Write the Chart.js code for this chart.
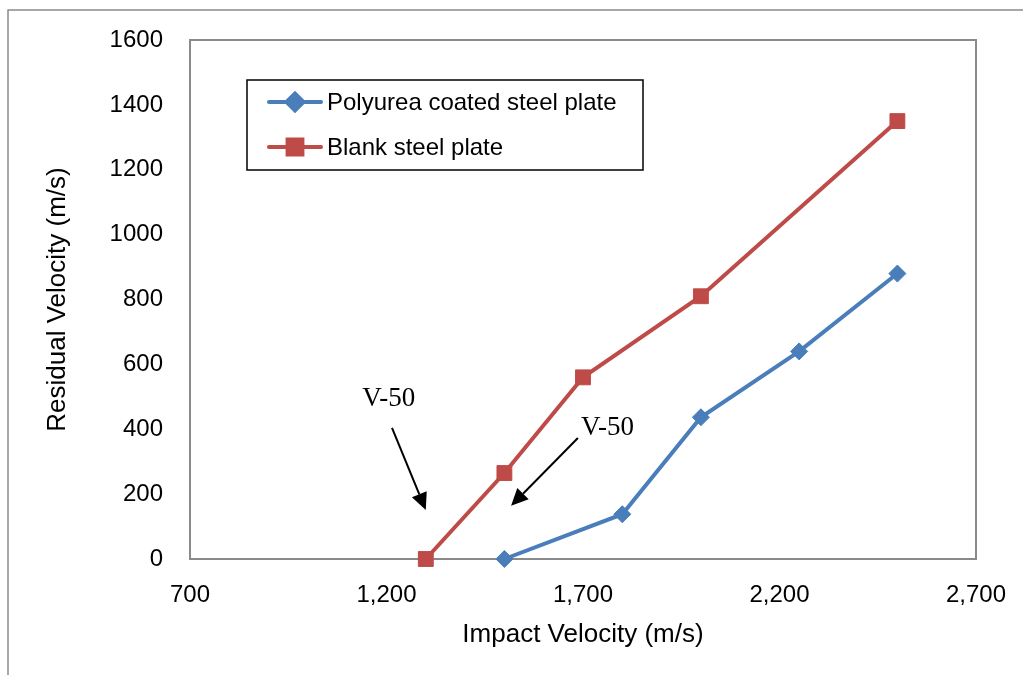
<!DOCTYPE html>
<html>
<head>
<meta charset="utf-8">
<script src="https://cdn.jsdelivr.net/npm/chart.js@4/dist/chart.umd.min.js"></script>
<style>
html,body{margin:0;padding:0;background:#fff;}
canvas{display:block;}
</style>
</head>
<body>
<canvas id="c" width="1023" height="675"></canvas>
<script>
// ---- data ----
const polyureaImpact   = [1500, 1800, 2000, 2250, 2500];
const polyureaResidual = [0, 138, 437, 640, 880];
const blankImpact      = [1300, 1500, 1700, 2000, 2500];
const blankResidual    = [0, 265, 560, 810, 1350];
const seriesNames = ['Polyurea coated steel plate', 'Blank steel plate'];
const xTickValues = [700, 1200, 1700, 2200, 2700];
const yTickValues = [0, 200, 400, 600, 800, 1000, 1200, 1400, 1600];
const xTitle = 'Impact Velocity (m/s)';
const yTitle = 'Residual Velocity (m/s)';
// annotation labels / arrows in data units
const noteText = ['V-50', 'V-50'];
const noteTextX = [1138, 1695];
const noteTextY = [471, 382];
const arrowFromX = [1214, 1687];
const arrowFromY = [404, 373];
const arrowToX = [1300, 1517];
const arrowToY = [151, 164];

const toPoints = (xs, ys) => xs.map((x, i) => ({x: x, y: ys[i]}));

const BLUE = '#4A7EBB';
const RED = '#BE4B48';
const GRAY = '#8A8A8A';
const SANS = '"Liberation Sans", Arial, sans-serif';

const decor = {
  id: 'decor',
  beforeDraw(chart) {
    const ctx = chart.ctx;
    ctx.save();
    ctx.fillStyle = '#fff';
    ctx.fillRect(0, 0, chart.width, chart.height);
    // outer frame (top + left)
    ctx.strokeStyle = GRAY;
    ctx.lineWidth = 1.5;
    ctx.beginPath();
    ctx.moveTo(8, chart.height);
    ctx.lineTo(8, 10);
    ctx.lineTo(chart.width, 10);
    ctx.stroke();
    ctx.restore();
  },
  beforeDatasetsDraw(chart) {
    const ctx = chart.ctx, a = chart.chartArea;
    ctx.save();
    ctx.strokeStyle = GRAY;
    ctx.lineWidth = 2;
    ctx.strokeRect(a.left, a.top, a.right - a.left, a.bottom - a.top);
    ctx.restore();
  },
  afterDatasetsDraw(chart) {
    const ctx = chart.ctx;
    const xs = chart.scales.x, ys = chart.scales.y;
    ctx.save();
    // annotations
    ctx.fillStyle = '#000';
    ctx.strokeStyle = '#000';
    ctx.font = '27px "Liberation Serif", "Times New Roman", serif';
    ctx.textBaseline = 'alphabetic';
    ctx.textAlign = 'left';
    for (let i = 0; i < noteText.length; i++) {
      ctx.fillText(noteText[i], xs.getPixelForValue(noteTextX[i]), ys.getPixelForValue(noteTextY[i]));
      const x1 = xs.getPixelForValue(arrowFromX[i]), y1 = ys.getPixelForValue(arrowFromY[i]);
      const x2 = xs.getPixelForValue(arrowToX[i]), y2 = ys.getPixelForValue(arrowToY[i]);
      const ang = Math.atan2(y2 - y1, x2 - x1);
      const hl = 17, hw = 8;
      const bx = x2 - hl * Math.cos(ang), by = y2 - hl * Math.sin(ang);
      ctx.lineWidth = 2;
      ctx.beginPath();
      ctx.moveTo(x1, y1);
      ctx.lineTo(bx, by);
      ctx.stroke();
      ctx.beginPath();
      ctx.moveTo(x2, y2);
      ctx.lineTo(bx + hw * Math.sin(ang), by - hw * Math.cos(ang));
      ctx.lineTo(bx - hw * Math.sin(ang), by + hw * Math.cos(ang));
      ctx.closePath();
      ctx.fill();
    }
    // legend
    const lx = 247, ly = 80, lw = 396, lh = 90;
    ctx.fillStyle = '#fff';
    ctx.fillRect(lx, ly, lw, lh);
    ctx.strokeStyle = '#000';
    ctx.lineWidth = 1.5;
    ctx.strokeRect(lx, ly, lw, lh);
    const rowY = [102, 147];
    chart.data.datasets.forEach((ds, i) => {
      const y = rowY[i];
      ctx.strokeStyle = ds.borderColor;
      ctx.lineWidth = ds.borderWidth;
      ctx.lineCap = 'round';
      ctx.beginPath();
      ctx.moveTo(269, y);
      ctx.lineTo(321, y);
      ctx.stroke();
      Chart.helpers.drawPoint(ctx, {
        pointStyle: ds.pointStyle, radius: ds.pointRadius, borderWidth: 1
      }, 295, y);
      ctx.fillStyle = ds.backgroundColor;
      ctx.fill();
      ctx.fillStyle = '#000';
      ctx.font = '24px ' + SANS;
      ctx.textBaseline = 'middle';
      ctx.textAlign = 'left';
      ctx.fillText(ds.label, 327, y + 1);
    });
    ctx.restore();
  }
};

new Chart(document.getElementById('c'), {
  type: 'scatter',
  data: {
    datasets: [
      {
        label: seriesNames[0],
        data: toPoints(polyureaImpact, polyureaResidual),
        showLine: true,
        borderColor: BLUE,
        backgroundColor: BLUE,
        borderWidth: 4,
        pointStyle: 'rectRot',
        pointRadius: 8.5,
        pointHoverRadius: 8.5,
        pointBorderWidth: 1,
        pointBorderColor: BLUE,
        pointBackgroundColor: BLUE,
        clip: false
      },
      {
        label: seriesNames[1],
        data: toPoints(blankImpact, blankResidual),
        showLine: true,
        borderColor: RED,
        backgroundColor: RED,
        borderWidth: 4,
        pointStyle: 'rect',
        pointRadius: 10.5,
        pointHoverRadius: 10.5,
        pointBorderWidth: 1,
        pointBorderColor: RED,
        pointBackgroundColor: RED,
        clip: false
      }
    ]
  },
  options: {
    responsive: false,
    animation: false,
    events: [],
    layout: {padding: {top: 40, right: 47, left: 0, bottom: 0}},
    plugins: {
      legend: {display: false},
      tooltip: {enabled: false}
    },
    scales: {
      x: {
        type: 'linear',
        min: xTickValues[0],
        max: xTickValues[xTickValues.length - 1],
        afterBuildTicks(scale) { scale.ticks = xTickValues.map(v => ({value: v})); },
        afterFit(scale) { scale.height = 116; scale.paddingRight = 0; scale.paddingLeft = 0; },
        grid: {display: false, drawTicks: false},
        border: {display: false},
        ticks: {
          padding: 22,
          color: '#000',
          font: {family: SANS, size: 24},
          callback: v => v.toLocaleString('en-US')
        },
        title: {
          display: true,
          text: xTitle,
          color: '#000',
          font: {family: SANS, size: 26},
          padding: {top: 0, bottom: 25}
        }
      },
      y: {
        type: 'linear',
        min: yTickValues[0],
        max: yTickValues[yTickValues.length - 1],
        afterBuildTicks(scale) { scale.ticks = yTickValues.map(v => ({value: v})); },
        afterFit(scale) { scale.width = 190; scale.paddingTop = 0; scale.paddingBottom = 0; },
        grid: {display: false, drawTicks: false},
        border: {display: false},
        ticks: {
          padding: 27,
          color: '#000',
          font: {family: SANS, size: 24},
          callback: v => String(v)
        },
        title: {
          display: true,
          text: yTitle,
          color: '#000',
          font: {family: SANS, size: 26},
          padding: {top: 42, bottom: 0}
        }
      }
    }
  },
  plugins: [decor]
});
</script>
</body>
</html>
